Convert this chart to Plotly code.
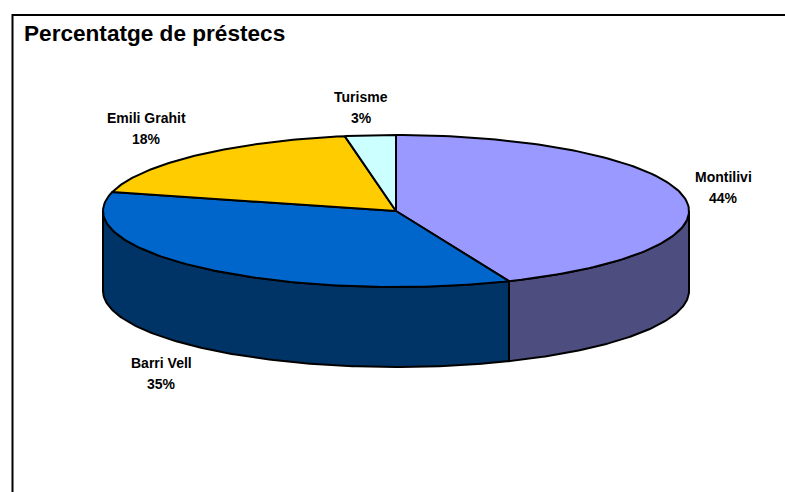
"""Pastís 3D del percentatge de préstecs."""
import numpy as np
import plotly.graph_objects as go

# Dades
categories = ['Montilivi', 'Barri Vell', 'Emili Grahit', 'Turisme']
shares = [43.7, 35.3, 18.2, 2.8]
top_colors = ['#9999FF', '#0066CC', '#FFCC00', '#CCFFFF']
side_colors = ['#4D4D80', '#003366', '#806600', '#668080']

W, H = 785, 492
CX, CY = 396, 211      # centre of the pie on the page
RX, RY = 293, 76       # pixels per pie unit
DEPTH = 80 / RY        # thickness of the pie, in y units

# centre of each label, in page pixels
label_pos = [(723, 187), (161.5, 373), (146, 128), (361, 107)]
LINE_GAP = 21


def to_x(px):
    return (px - CX) / RX


def to_y(py):
    return (CY - py) / RY


def arc(t0, t1):
    """Points on the rim, angles clockwise from 12 o'clock."""
    t = np.radians(np.linspace(t0, t1, 120))
    return np.sin(t), np.cos(t)


fig = go.Figure()

edges = np.cumsum([0] + shares) / sum(shares) * 360

# Parets laterals (only the front half of the rim can be seen)
for i in range(len(shares)):
    t0, t1 = max(edges[i], 90), min(edges[i + 1], 270)
    if t0 >= t1:
        continue
    x, y = arc(t0, t1)
    fig.add_trace(go.Scatter(
        x=np.concatenate([x, x[::-1], x[:1]]),
        y=np.concatenate([y, y[::-1] - DEPTH, y[:1]]),
        mode='lines',
        fill='toself',
        fillcolor=side_colors[i],
        line=dict(color='black', width=2),
        hoverinfo='skip'
    ))

# Cara superior
for i, cat in enumerate(categories):
    x, y = arc(edges[i], edges[i + 1])
    fig.add_trace(go.Scatter(
        x=np.concatenate([[0], x, [0]]),
        y=np.concatenate([[0], y, [0]]),
        mode='lines',
        fill='toself',
        fillcolor=top_colors[i],
        line=dict(color='black', width=2),
        name=cat
    ))

# Etiquetes
for cat, share, (px, py) in zip(categories, shares, label_pos):
    lines = [cat, f'{round(share)}%']
    for k, txt in enumerate(lines):
        fig.add_annotation(
            x=to_x(px),
            y=to_y(py + (k - 0.5) * LINE_GAP),
            text=txt,
            showarrow=False,
            font=dict(family='Liberation Sans', size=14, color='black', weight='bold')
        )

# Marc (open towards the right and the bottom of the page)
fig.add_shape(
    type='rect', xref='x', yref='y',
    x0=to_x(12.5), y0=to_y(15), x1=to_x(W + 20), y1=to_y(H + 20),
    line=dict(color='black', width=2), layer='above'
)

fig.add_annotation(
    xref='x', yref='y',
    x=to_x(22), y=to_y(33),
    xanchor='left',
    text='Percentatge de préstecs',
    showarrow=False,
    font=dict(family='Liberation Sans', size=22.6, color='black', weight='bold')
)

fig.update_layout(
    width=W,
    height=H,
    margin=dict(l=0, r=0, t=0, b=0),
    showlegend=False,
    paper_bgcolor='white',
    plot_bgcolor='white',
    xaxis=dict(visible=False, range=[to_x(0), to_x(W)]),
    yaxis=dict(visible=False, range=[to_y(H), to_y(0)])
)

fig.write_html("out.html", config=dict(displayModeBar=False),
               post_script="document.body.style.margin='0';")
